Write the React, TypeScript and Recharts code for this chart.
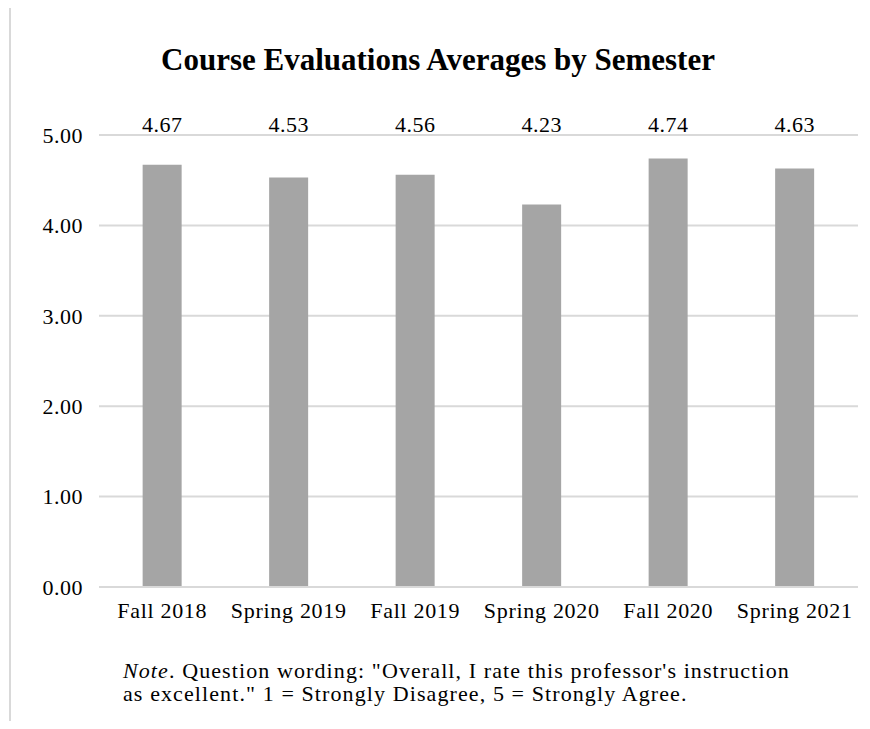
import { BarChart, Bar, XAxis, YAxis, CartesianGrid, LabelList } from 'recharts';

const semesters = ['Fall 2018', 'Spring 2019', 'Fall 2019', 'Spring 2020', 'Fall 2020', 'Spring 2021'];
const averages = [4.67, 4.53, 4.56, 4.23, 4.74, 4.63];
const yTicks = [0, 1, 2, 3, 4, 5];

const data = semesters.map((semester, i) => ({ semester, avg: averages[i] }));

const FONT = '"Liberation Serif", "Times New Roman", serif';
const TOP = 135;

const TopLabel = (props: any) => {
    const { x, width, value } = props;
    return (
        <text
            x={x + width / 2}
            y={TOP - 3}
            textAnchor="middle"
            fontFamily={FONT}
            fontSize={22}
            letterSpacing={0.5}
            fill="#000"
        >
            {Number(value).toFixed(2)}
        </text>
    );
};

export default function App() {
    return (
        <div style={{ position: 'relative', width: 870, height: 729, margin: -8, overflow: 'hidden', background: '#fff' }}>
            <div
                style={{
                    position: 'absolute',
                    left: 9,
                    top: 6,
                    width: 900,
                    height: 800,
                    border: '2px solid #d9d9d9',
                }}
            />
            <div
                style={{
                    position: 'absolute',
                    left: 0,
                    width: 876,
                    top: 42,
                    textAlign: 'center',
                    fontFamily: FONT,
                    fontWeight: 'bold',
                    fontSize: 31,
                    lineHeight: '36px',
                }}
            >
                Course Evaluations Averages by Semester
            </div>
            <BarChart
                width={870}
                height={729}
                data={data}
                margin={{ top: TOP, right: 12, bottom: 112, left: 0 }}
                barCategoryGap="34.5%"
                style={{ position: 'absolute', left: 0, top: 0 }}
            >
                <CartesianGrid vertical={false} stroke="#d9d9d9" strokeWidth={2} />
                <XAxis
                    dataKey="semester"
                    height={30}
                    axisLine={{ stroke: '#d9d9d9', strokeWidth: 2 }}
                    tickLine={false}
                    tickSize={0}
                    tickMargin={15}
                    tick={{ fill: '#000', fontSize: 22, fontFamily: FONT, letterSpacing: 0.7 }}
                    interval={0}
                />
                <YAxis
                    domain={[0, 5]}
                    ticks={yTicks}
                    width={99}
                    axisLine={false}
                    tickLine={false}
                    tickSize={0}
                    tickMargin={16}
                    tickFormatter={(v: number) => v.toFixed(2)}
                    tick={{ fill: '#000', fontSize: 22, fontFamily: FONT, letterSpacing: 0.5 }}
                />
                <Bar dataKey="avg" fill="#a5a5a5" isAnimationActive={false}>
                    <LabelList dataKey="avg" content={TopLabel} />
                </Bar>
            </BarChart>
            <div
                style={{
                    position: 'absolute',
                    left: 123,
                    top: 659,
                    fontFamily: FONT,
                    fontSize: 22,
                    lineHeight: '23px',
                    letterSpacing: 1.1,
                    color: '#000',
                    whiteSpace: 'nowrap',
                }}
            >
                <i>Note</i>. Question wording: "Overall, I rate this professor's instruction
                <br />
                as excellent." 1 = Strongly Disagree, 5 = Strongly Agree.
            </div>
        </div>
    );
}
